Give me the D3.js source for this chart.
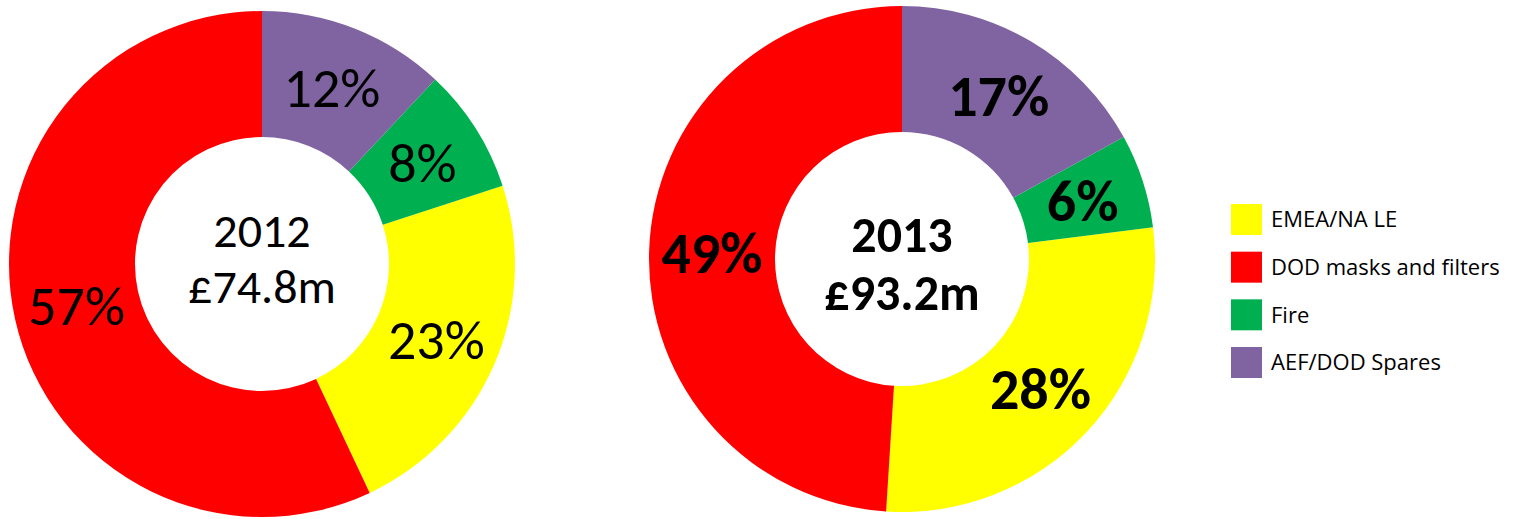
<!DOCTYPE html>
<html>
<head>
<meta charset="utf-8">
<script src="https://cdn.jsdelivr.net/npm/d3@7/dist/d3.min.js"></script>
<style>
  body { margin: 0; background: #fff; }
  text { font-family: Carlito, Lato, sans-serif; }
  .legend text { font-family: "Open Sans", sans-serif; }
</style>
</head>
<body>
<script>
var categories = ["EMEA/NA LE", "DOD masks and filters", "Fire", "AEF/DOD Spares"];
var colors = ["#FFFF00", "#FF0000", "#00B050", "#8064A2"];
// clockwise from 12 o'clock
var sliceOrder = ["AEF/DOD Spares", "Fire", "EMEA/NA LE", "DOD masks and filters"];

var years = ["2012", "2013"];
var totals = ["£74.8m", "£93.2m"];
var values2012 = [23, 57, 8, 12];
var values2013 = [28, 49, 6, 17];

var width = 1523, height = 519;

var svg = d3.select("body").append("svg").attr("width", width).attr("height", height);

var color = d3.scaleOrdinal().domain(categories).range(colors);

var pie = d3.pie()
    .value(function (d) { return d.value; })
    .sort(function (a, b) { return sliceOrder.indexOf(a.name) - sliceOrder.indexOf(b.name); });

var outerR = 253, innerR = 127;
var arc = d3.arc().innerRadius(innerR).outerRadius(outerR);

var charts = [
  { cx: 262, cy: 264, values: values2012, bold: false },
  { cx: 902, cy: 259, values: values2013, bold: true }
];

charts.forEach(function (c, i) {
  var data = categories.map(function (name, j) { return { name: name, value: c.values[j] }; });
  var g = svg.append("g").attr("transform", "translate(" + c.cx + "," + c.cy + ")");

  var arcs = pie(data);
  g.selectAll("path").data(arcs).enter().append("path")
      .attr("d", arc)
      .attr("fill", function (d) { return color(d.data.name); });

  g.selectAll("text.pct").data(arcs).enter().append("text")
      .attr("class", "pct")
      .attr("transform", function (d) { return "translate(" + arc.centroid(d) + ")"; })
      .attr("text-anchor", "middle")
      .attr("dy", "0.35em")
      .style("font-size", c.bold ? "58px" : "56px")
      .style("font-weight", c.bold ? "bold" : "normal")
      .text(function (d) { return d.data.value + "%"; });

  var center = g.append("text")
      .attr("text-anchor", "middle")
      .style("font-size", c.bold ? "50px" : "48px")
      .style("font-weight", c.bold ? "bold" : "normal");
  center.append("tspan").attr("x", 0).attr("y", i == 0 ? -17 : -7).text(years[i]);
  center.append("tspan").attr("x", 0).attr("y", i == 0 ? 39 : 51).text(totals[i]);
});

var legend = svg.append("g").attr("class", "legend").attr("transform", "translate(1231,204)");
var legendY = d3.scalePoint().domain(categories).range([0, 143]);

var item = legend.selectAll("g").data(categories).enter().append("g")
    .attr("transform", function (d) { return "translate(0," + legendY(d) + ")"; });
item.append("rect").attr("width", 31).attr("height", 31).attr("fill", function (d) { return color(d); });
item.append("text").attr("x", 40).attr("y", 15.5).attr("dy", "0.35em")
    .style("font-size", "22px")
    .text(function (d) { return d; });
</script>
</body>
</html>
